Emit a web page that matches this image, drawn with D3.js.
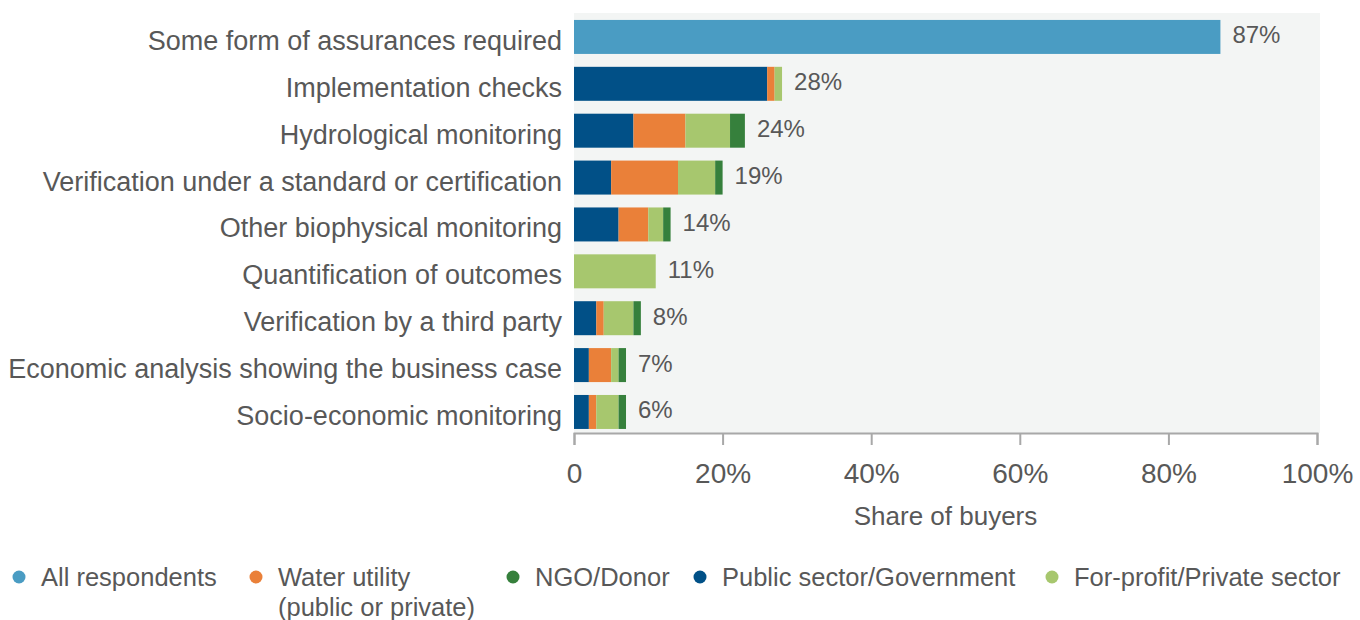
<!DOCTYPE html>
<html>
<head>
<meta charset="utf-8">
<script src="https://cdn.jsdelivr.net/npm/d3@7"></script>
<style>
  body { margin: 0; background: #fff; }
  text { font-family: "Liberation Sans", Arial, sans-serif; fill: #585858; }
</style>
</head>
<body>
<div id="chart"></div>
<script>
'use strict';

const categories = [
    'Some form of assurances required',
    'Implementation checks',
    'Hydrological monitoring',
    'Verification under a standard or certification',
    'Other biophysical monitoring',
    'Quantification of outcomes',
    'Verification by a third party',
    'Economic analysis showing the business case',
    'Socio-economic monitoring'
];
// shares of buyers, %, per segment
const allRespondents = [87, 0, 0, 0, 0, 0, 0, 0, 0];
const publicSector   = [0, 26, 8, 5, 6, 0, 3, 2, 2];
const waterUtility   = [0, 1, 7, 9, 4, 0, 1, 3, 1];
const forProfit      = [0, 1, 6, 5, 2, 11, 4, 1, 3];
const ngoDonor       = [0, 0, 2, 1, 1, 0, 1, 1, 1];
const totalLabels    = ['87%', '28%', '24%', '19%', '14%', '11%', '8%', '7%', '6%'];
const xTicks = [0, 20, 40, 60, 80, 100];

const legendItems = [
    {key: 'all', lines: ['All respondents']},
    {key: 'water', lines: ['Water utility', '(public or private)']},
    {key: 'ngo', lines: ['NGO/Donor']},
    {key: 'public', lines: ['Public sector/Government']},
    {key: 'forprofit', lines: ['For-profit/Private sector']}
];
const legendX = [19, 256, 513, 700, 1052];

const colors = {
    all: '#4a9cc3',
    public: '#015087',
    water: '#ea8039',
    forprofit: '#a7c76e',
    ngo: '#36803c'
};

const width = 1360, height = 620;
const rows = categories.map((c, i) => ({
    cat: c,
    all: allRespondents[i],
    public: publicSector[i],
    water: waterUtility[i],
    forprofit: forProfit[i],
    ngo: ngoDonor[i],
    label: totalLabels[i]
}));
const keys = ['all', 'public', 'water', 'forprofit', 'ngo'];
const series = d3.stack().keys(keys)(rows);

const svg = d3.select('#chart').append('svg')
    .attr('width', width)
    .attr('height', height);

const x = d3.scaleLinear().domain([0, 100]).range([574, 1317]);
const y = d3.scaleBand().domain(categories).range([13.5, 435.4])
    .paddingInner(0.275).paddingOuter(0.1375);

// plot background
svg.append('rect')
    .attr('x', x(0)).attr('y', 13)
    .attr('width', 1320 - x(0)).attr('height', 433 - 13)
    .attr('fill', '#f3f5f4');

// bars
svg.append('g').selectAll('g')
    .data(series)
    .join('g')
    .attr('fill', d => colors[d.key])
    .selectAll('rect')
    .data(d => d)
    .join('rect')
    .attr('x', d => x(d[0]))
    .attr('y', d => y(d.data.cat))
    .attr('width', d => x(d[1]) - x(d[0]))
    .attr('height', y.bandwidth());

// value labels
const ends = rows.map((r, i) => series[series.length - 1][i][1]);
svg.append('g').selectAll('text')
    .data(rows)
    .join('text')
    .attr('x', (d, i) => x(ends[i]) + 12)
    .attr('y', d => y(d.cat) + y.bandwidth() / 2 + 6.5)
    .attr('font-size', 24)
    .text(d => d.label);

// category labels
svg.append('g').selectAll('text')
    .data(categories)
    .join('text')
    .attr('x', 562)
    .attr('y', d => y(d) + y.bandwidth() / 2 + 13)
    .attr('text-anchor', 'end')
    .attr('font-size', 27)
    .text(d => d);

// x axis
const axis = svg.append('g')
    .attr('transform', 'translate(0,433)')
    .call(d3.axisBottom(x).tickValues(xTicks).tickSize(12).tickPadding(0)
        .tickFormat(d => d === 0 ? '0' : d + '%'));
axis.select('.domain').attr('stroke', '#a8a8a8').attr('stroke-width', 2);
axis.selectAll('.tick line').attr('stroke', '#a8a8a8').attr('stroke-width', 2);
axis.selectAll('.tick text')
    .attr('y', 50)
    .attr('dy', 0)
    .attr('font-size', 28)
    .attr('font-family', '"Liberation Sans", Arial, sans-serif')
    .attr('fill', '#585858');

svg.append('text')
    .attr('x', (x(0) + x(100)) / 2)
    .attr('y', 525)
    .attr('text-anchor', 'middle')
    .attr('font-size', 26)
    .text('Share of buyers');

// legend
const leg = svg.append('g').selectAll('g')
    .data(legendItems)
    .join('g')
    .attr('transform', (d, i) => `translate(${legendX[i]},577)`);
leg.append('circle')
    .attr('r', 6.5)
    .attr('fill', d => colors[d.key]);
leg.append('text')
    .attr('font-size', 25.5)
    .selectAll('tspan')
    .data(d => d.lines)
    .join('tspan')
    .attr('x', 22)
    .attr('y', (d, i) => 9 + i * 30)
    .text(d => d);
</script>
</body>
</html>
